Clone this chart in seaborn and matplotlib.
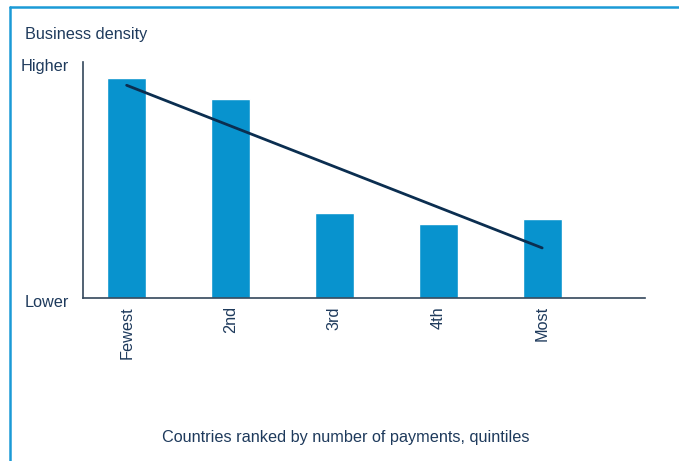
import matplotlib
matplotlib.use("Agg")
import matplotlib.pyplot as plt
from matplotlib.lines import Line2D
import matplotlib.transforms as mtransforms
import seaborn as sns
import numpy as np
import pandas as pd

categories = ["Fewest", "2nd", "3rd", "4th", "Most"]
density = [93.2, 84.3, 36.0, 31.4, 33.5]
ytick_labels = ["Lower", "Higher"]

sns.set_theme(style="white")
plt.rcParams['font.family'] = ['Liberation Sans', 'DejaVu Sans']

bar_color = "#0893CE"
line_color = "#0B2E50"
text_color = "#1E3A5C"
frame_color = "#1B9AD6"
spine_color = "#33475B"
fs = 11.7

df = pd.DataFrame({"cat": categories, "val": density, "pos": np.arange(len(categories))})

fig = plt.figure(figsize=(6.79, 4.61), dpi=100)
ax = fig.add_axes([83/679, 1-298/461, (645-83)/679, (298-62)/461])

sns.barplot(data=df, x="cat", y="val", color=bar_color, width=0.375,
            saturation=1, ax=ax, order=categories)
sns.regplot(data=df, x="pos", y="val", scatter=False, ci=None, truncate=True,
            line_kws={"color": line_color, "linewidth": 2}, ax=ax)

ax.set_xlim(-0.42, 4.99)
ax.set_ylim(0, 100)
ax.set_yticks([0, 100])
ax.set_yticklabels(ytick_labels, fontsize=fs, color=text_color)
ax.set_xticks(range(len(categories)))
ax.set_xticklabels(categories, rotation=90, fontsize=fs, color=text_color)
ax.tick_params(axis="y", length=0, pad=10)
ax.tick_params(axis="x", length=0, pad=6)
ax.set_xlabel("")
ax.set_ylabel("")
shift = mtransforms.ScaledTranslation(0, -3/100, fig.dpi_scale_trans)
for lab in ax.get_yticklabels():
    lab.set_transform(lab.get_transform() + shift)
for s in ["top", "right"]:
    ax.spines[s].set_visible(False)
for s in ["left", "bottom"]:
    ax.spines[s].set_color(spine_color)
    ax.spines[s].set_linewidth(1.2)

fig.text(25/679, 1-34/461, "Business density", fontsize=fs, color=text_color,
         ha="left", va="center")
fig.text(346/679, 1-437/461, "Countries ranked by number of payments, quintiles",
         fontsize=fs, color=text_color, ha="center", va="center")

fig.add_artist(Line2D([9.5/679, 9.5/679], [0, 1-7/461], transform=fig.transFigure,
                      color=frame_color, linewidth=1.8))
fig.add_artist(Line2D([9.5/679, 1], [1-7/461, 1-7/461], transform=fig.transFigure,
                      color=frame_color, linewidth=1.8))

fig.savefig("out.png", dpi=100)
